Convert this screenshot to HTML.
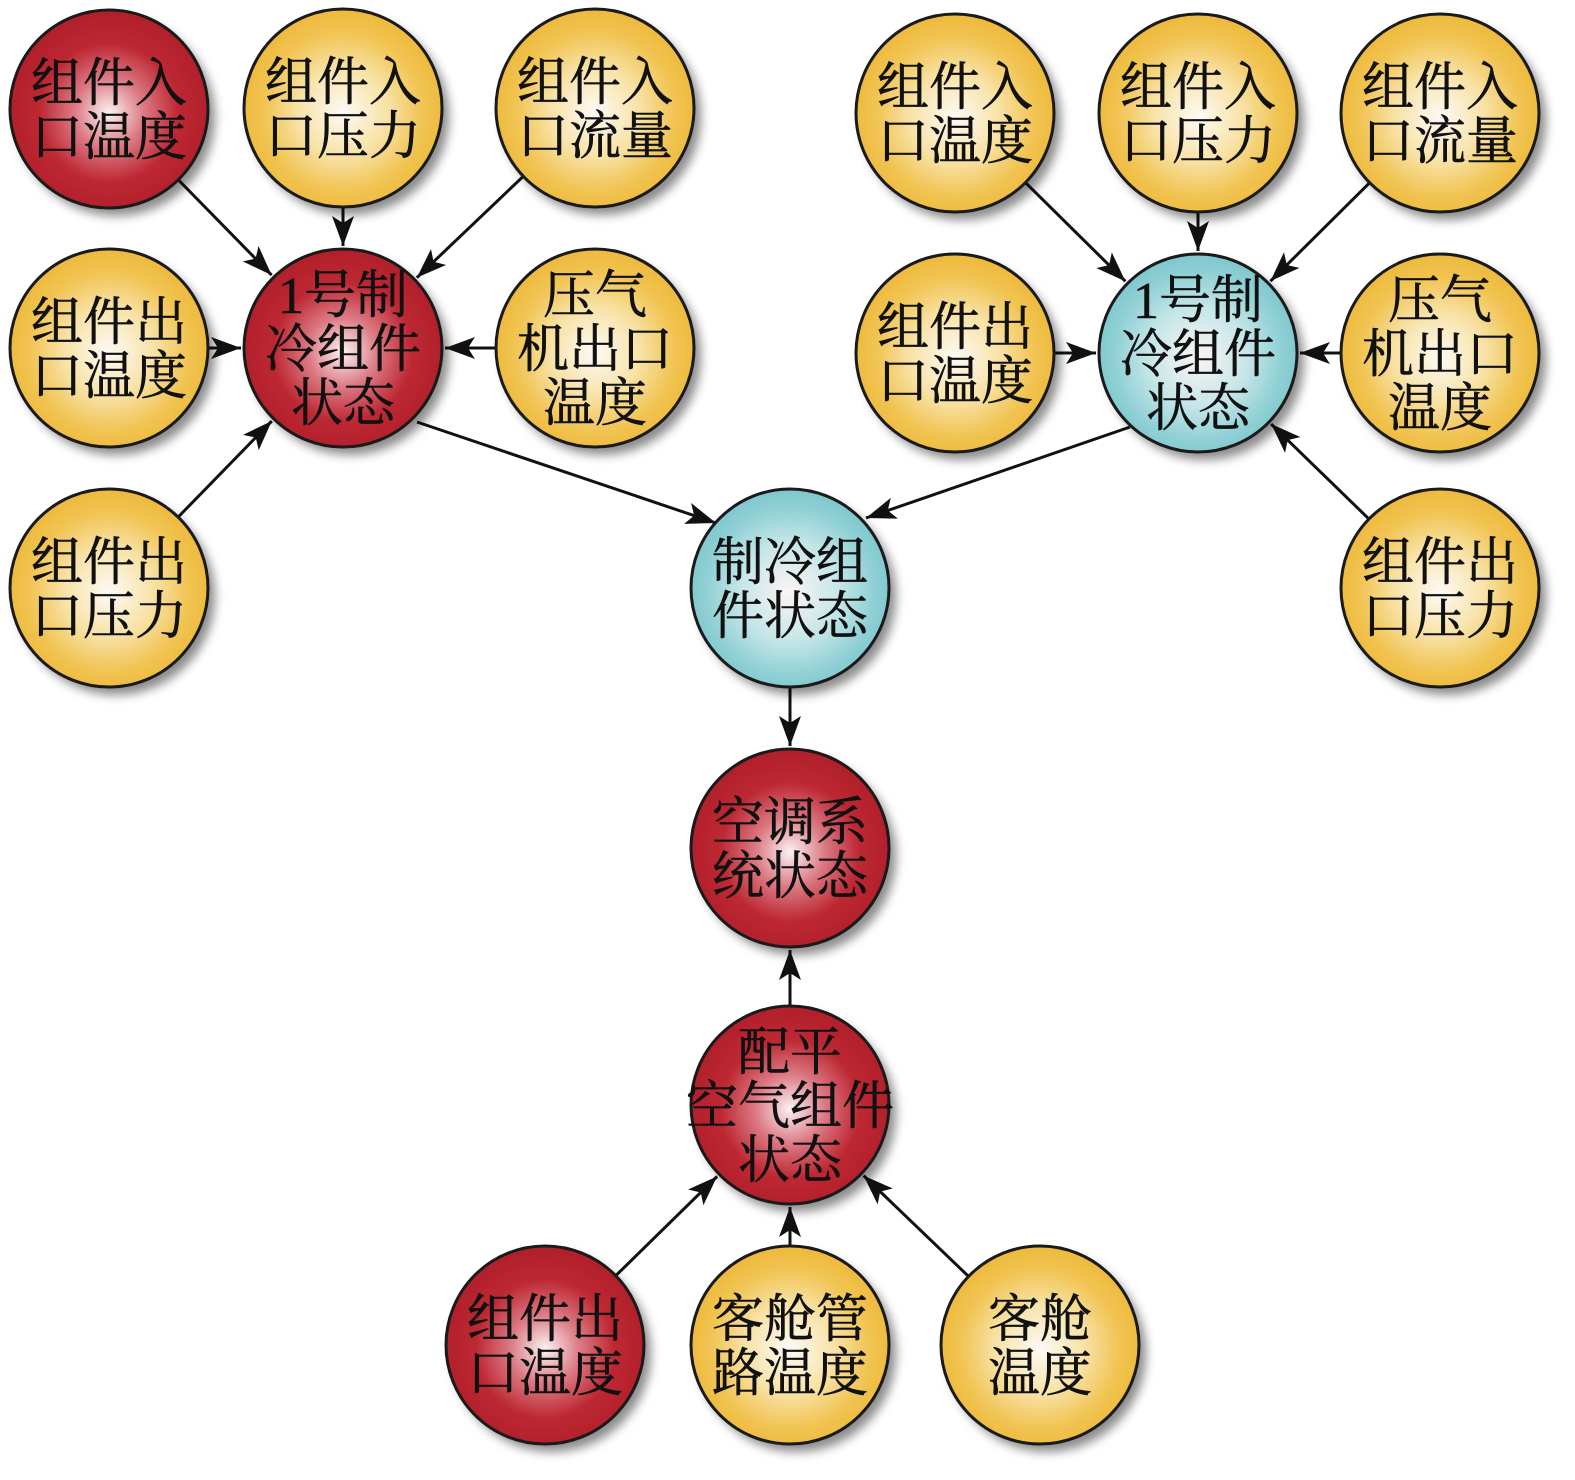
<!DOCTYPE html>
<html><head><meta charset="utf-8">
<style>
html,body{margin:0;padding:0;background:#fff;width:1575px;height:1480px;overflow:hidden}
svg text{font-family:"Liberation Serif","Noto Serif CJK SC","Noto Sans CJK SC",serif;font-size:52px;fill:#111;stroke:#111;stroke-width:0.6}
</style></head><body>
<svg id="s" width="1575" height="1480" viewBox="0 0 1575 1480" xmlns="http://www.w3.org/2000/svg">
<defs>
<radialGradient id="gy" cx="50%" cy="52%" r="50%"><stop offset="0" stop-color="#fdfaf6"/><stop offset="0.45" stop-color="#f8e2a6"/><stop offset="0.8" stop-color="#f1c453"/><stop offset="1" stop-color="#eebb3f"/></radialGradient>
<radialGradient id="gr" cx="50%" cy="52%" r="50%"><stop offset="0" stop-color="#fbf2f2"/><stop offset="0.35" stop-color="#dc7a84"/><stop offset="0.7" stop-color="#bd2833"/><stop offset="1" stop-color="#b2202b"/></radialGradient>
<radialGradient id="gt" cx="50%" cy="52%" r="50%"><stop offset="0" stop-color="#fbf4f4"/><stop offset="0.5" stop-color="#c5e6e8"/><stop offset="0.85" stop-color="#8fd0d5"/><stop offset="1" stop-color="#82c9cf"/></radialGradient>
<filter id="sh" x="-20%" y="-20%" width="150%" height="150%"><feGaussianBlur stdDeviation="5"/></filter>
<marker id="ar" viewBox="0 0 30 22" refX="30" refY="11" markerWidth="30" markerHeight="22" markerUnits="userSpaceOnUse" orient="auto"><path d="M0,0 L30,11 L0,22 L7,11 Z" fill="#111"/></marker>
</defs>
<g id="edges"></g><g id="nodes"></g>
</svg>
<script>
var R=99;
var N={
a:[109,109,'r',['组件入','口温度']],
b:[343,108,'y',['组件入','口压力']],
c:[595,108,'y',['组件入','口流量']],
d:[109,348,'y',['组件出','口温度']],
e:[343,348,'r',['1号制','冷组件','状态']],
f:[595,348,'y',['压气','机出口','温度']],
g:[109,588,'y',['组件出','口压力']],
h:[955,113,'y',['组件入','口温度']],
i:[1198,113,'y',['组件入','口压力']],
j:[1440,113,'y',['组件入','口流量']],
k:[955,353,'y',['组件出','口温度']],
l:[1198,353,'t',['1号制','冷组件','状态']],
m:[1440,353,'y',['压气','机出口','温度']],
n:[1440,588,'y',['组件出','口压力']],
o:[790,588,'t',['制冷组','件状态']],
p:[790,848,'r',['空调系','统状态']],
q:[790,1105,'r',['配平','空气组件','状态']],
u:[545,1345,'r',['组件出','口温度']],
v:[790,1345,'y',['客舱管','路温度']],
w:[1040,1345,'y',['客舱','温度']]
};
var E=[['a','e'],['b','e'],['c','e'],['d','e'],['f','e'],['g','e'],['h','l'],['i','l'],['j','l'],['k','l'],['m','l'],['n','l'],['o','p'],['q','p'],['u','q'],['v','q'],['w','q']];
var ns='http://www.w3.org/2000/svg',eg=document.getElementById('edges'),ng=document.getElementById('nodes');
function el(t,a,p){var e=document.createElementNS(ns,t);for(var k in a)e.setAttribute(k,a[k]);p.appendChild(e);return e;}
function ln(x1,y1,x2,y2){el('line',{x1:x1,y1:y1,x2:x2,y2:y2,stroke:'#111','stroke-width':3,'marker-end':'url(#ar)'},eg);}
E.forEach(function(x){var s=N[x[0]],t=N[x[1]];var dx=t[0]-s[0],dy=t[1]-s[1],L=Math.hypot(dx,dy);var ux=dx/L,uy=dy/L;
ln(s[0]+ux*R,s[1]+uy*R,t[0]-ux*(R+3),t[1]-uy*(R+3));});
ln(417,422,716,523);
ln(1130,427,866,518);
for(var k in N){var c=N[k];
el('circle',{cx:c[0]+7,cy:c[1]+8,r:R,fill:'#000','fill-opacity':0.45,filter:'url(#sh)'},ng);
el('circle',{cx:c[0],cy:c[1],r:R,fill:'url(#g'+c[2]+')',stroke:'#1a1a1a','stroke-width':3},ng);
var lines=c[3],lh=54,n=lines.length,y0=c[1]-(n-1)*lh/2+19;
lines.forEach(function(s,i){var t=el('text',{x:c[0],y:y0+i*lh,'text-anchor':'middle'},ng);t.textContent=s;});}
</script>
</body></html>
